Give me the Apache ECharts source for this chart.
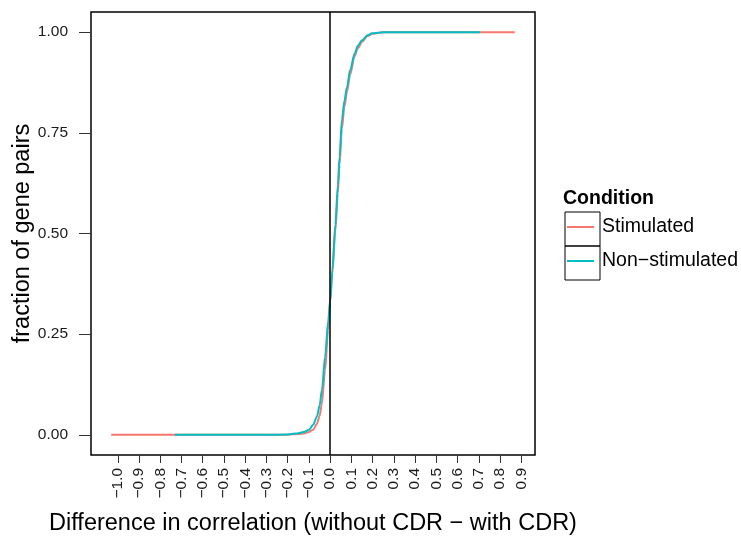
<!DOCTYPE html>
<html>
<head>
<meta charset="utf-8">
<script src="https://cdn.jsdelivr.net/npm/echarts@6/dist/echarts.min.js"></script>
<style>
html,body{margin:0;padding:0;background:#fff;}
#chart{width:741px;height:538px;}
</style>
</head>
<body>
<div id="chart"></div>
<script>
// Stimulated (ECDF)
var stimX = [-1.031, -0.3, -0.2, -0.15, -0.12, -0.1, -0.08, -0.063, -0.05, -0.04, -0.024, -0.01, 0, 0.01, 0.024, 0.036, 0.044, 0.055, 0.067, 0.079, 0.094, 0.115, 0.13, 0.15, 0.175, 0.2, 0.25, 0.869];
var stimY = [0, 0, 0.0005, 0.002, 0.004, 0.007, 0.013, 0.027, 0.047, 0.075, 0.16, 0.26, 0.33, 0.40, 0.505, 0.60, 0.67, 0.76, 0.815, 0.852, 0.895, 0.94, 0.96, 0.976, 0.99, 0.996, 1, 1];
// Non-stimulated
var nonX = [-0.732, -0.3, -0.2, -0.15, -0.12, -0.1, -0.08, -0.063, -0.05, -0.039, -0.024, -0.01, 0, 0.01, 0.024, 0.036, 0.044, 0.055, 0.067, 0.079, 0.094, 0.115, 0.13, 0.15, 0.175, 0.197, 0.25, 0.704];
var nonY = [0, 0, 0.001, 0.004, 0.008, 0.013, 0.025, 0.045, 0.072, 0.112, 0.194, 0.28, 0.335, 0.41, 0.521, 0.62, 0.69, 0.782, 0.83, 0.864, 0.906, 0.947, 0.966, 0.98, 0.992, 0.997, 1, 1];
var seriesNames = ['Stimulated', 'Non\u2212stimulated'];
var xTicks = [-1.0, -0.9, -0.8, -0.7, -0.6, -0.5, -0.4, -0.3, -0.2, -0.1, 0.0, 0.1, 0.2, 0.3, 0.4, 0.5, 0.6, 0.7, 0.8, 0.9];
var yTicks = [0, 0.25, 0.5, 0.75, 1.0];
var xRange = [-1.126, 0.964];
var yRange = [-0.05, 1.05];

function zip(a, b) { return a.map(function (v, i) { return [v, b[i]]; }); }
function fmtX(v) { return (v < -1e-9 ? '\u2212' : '') + Math.abs(v).toFixed(1); }

var FONT = 'Liberation Sans, Arial, Helvetica, sans-serif';
var chart = echarts.init(document.getElementById('chart'), null, {renderer: 'canvas'});
chart.setOption({
  animation: false,
  backgroundColor: '#fff',
  grid: {left: 91, right: 206, top: 12, bottom: 83, containLabel: false, outerBoundsMode: 'none',
         show: true, borderColor: '#000', borderWidth: 1.5, backgroundColor: '#fff'},
  title: {text: 'Condition', left: 563, top: 189, padding: 0, textStyle: {fontFamily: FONT, fontSize: 19.5, fontWeight: 'bold', color: '#000'}},
  legend: {
    orient: 'vertical', left: 567, top: 210, padding: 0, itemGap: 0, itemWidth: 27, itemHeight: 2, icon: 'rect',
    textStyle: {fontFamily: FONT, fontSize: 19.5, color: '#000', lineHeight: 34, padding: [0, 0, 0, 3]},
    data: seriesNames
  },
  graphic: [
    {type: 'rect', left: 562.5, top: 209.5, shape: {width: 35, height: 34}, style: {fill: 'none', stroke: '#000', lineWidth: 1}, z: 100},
    {type: 'rect', left: 562.5, top: 243.5, shape: {width: 35, height: 34}, style: {fill: 'none', stroke: '#000', lineWidth: 1}, z: 100}
  ],
  xAxis: {
    type: 'value', min: xRange[0], max: xRange[1],
    name: 'Difference in correlation (without CDR \u2212 with CDR)', nameLocation: 'middle', nameGap: 57, nameMoveOverlap: false,
    nameTextStyle: {fontFamily: FONT, fontSize: 23.5, color: '#000'},
    axisLine: {show: false, onZero: false}, splitLine: {show: false},
    axisTick: {show: true, inside: false, length: 8, lineStyle: {color: '#333', width: 1}, customValues: xTicks},
    axisLabel: {rotate: 90, margin: 13, fontFamily: FONT, fontSize: 15.5, color: '#1a1a1a', customValues: xTicks, formatter: fmtX}
  },
  yAxis: {
    type: 'value', min: yRange[0], max: yRange[1],
    name: 'fraction of gene pairs', nameLocation: 'middle', nameGap: 56, nameMoveOverlap: false,
    nameTextStyle: {fontFamily: FONT, fontSize: 23.5, color: '#000'},
    axisLine: {show: false, onZero: false}, splitLine: {show: false},
    axisTick: {show: true, inside: false, length: 12, lineStyle: {color: '#333', width: 1}, customValues: yTicks},
    axisLabel: {margin: 23, fontFamily: FONT, fontSize: 15.5, color: '#1a1a1a', customValues: yTicks, formatter: function (v) { return v.toFixed(2); }}
  },
  series: [
    {name: seriesNames[0], type: 'line', data: zip(stimX, stimY), showSymbol: false, smooth: 0.3, smoothMonotone: 'x',
     lineStyle: {color: '#F8766D', width: 2}, itemStyle: {color: '#F8766D'}, z: 2},
    {name: seriesNames[1], type: 'line', data: zip(nonX, nonY), showSymbol: false, smooth: 0.3, smoothMonotone: 'x',
     lineStyle: {color: '#00BFC4', width: 2}, itemStyle: {color: '#00BFC4'}, z: 3,
     markLine: {silent: true, symbol: 'none', label: {show: false}, lineStyle: {color: '#000', width: 1.5, type: 'solid'}, data: [{xAxis: 0}]}}
  ]
});
</script>
</body>
</html>
